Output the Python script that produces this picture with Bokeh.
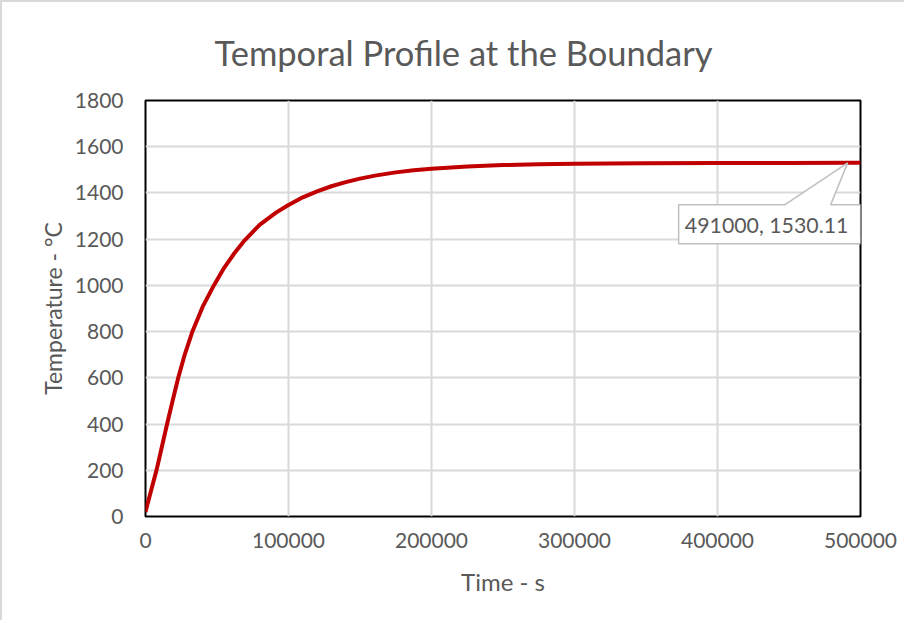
from bokeh.plotting import figure
from bokeh.models import Range1d, FixedTicker, Label, NumeralTickFormatter
from bokeh.embed import file_html
from bokeh.resources import INLINE

# ---- data ----
time_s = [0, 4000, 7900, 11500, 15100, 19000, 22800, 27500, 32600, 40000,
          47800, 55000, 62000, 69500, 80000, 91500, 100000, 110000, 120000,
          130000, 140000, 150000, 161500, 175000, 187500, 200000, 225000,
          250000, 275000, 300000, 350000, 400000, 450000, 491000, 500000]
temp_c = [20, 115, 205, 303, 400, 502, 598, 702, 797, 908,
          1000, 1076, 1138, 1196, 1263, 1316, 1348, 1381, 1407,
          1429, 1447, 1462, 1476, 1489, 1498, 1505, 1514.6,
          1520.6, 1524.3, 1526.5, 1528.7, 1529.6, 1529.95, 1530.11, 1530.13]
x_ticks = [0, 100000, 200000, 300000, 400000, 500000]
y_ticks = [0, 200, 400, 600, 800, 1000, 1200, 1400, 1600, 1800]
callout_t = 491000
callout_T = 1530.11
callout_text = "491000, 1530.11"
title_text = "Temporal Profile at the Boundary"

FONT = "Lato"
TXT = "#595959"

W, H = 904, 620
BL, BR, BT, BB = 143, 46, 98, 106
X0, X1, Y0, Y1 = 0, 500000, 0, 1800

p = figure(width=W, height=H, output_backend="svg", toolbar_location=None,
           x_range=Range1d(X0, X1), y_range=Range1d(Y0, Y1),
           min_border_left=BL, min_border_right=BR, min_border_top=BT,
           min_border_bottom=BB, background_fill_color="white",
           border_fill_color="white", title=title_text)
p.styles = {"border-left": "2px solid #d9d9d9", "border-top": "2px solid #d9d9d9"}

p.title.text_font = FONT
p.title.text_font_size = "34.5px"
p.title.text_font_style = "normal"
p.title.text_color = TXT
p.title.align = "left"
p.title.offset = 69
p.title.standoff = 52
p.title.vertical_align = "top"

p.outline_line_color = "black"
p.outline_line_width = 2
p.outline_line_alpha = 1

for ax in (p.xaxis[0], p.yaxis[0]):
    ax.axis_line_color = None
    ax.major_tick_line_color = None
    ax.minor_tick_line_color = None
    ax.major_tick_in = 0
    ax.major_tick_out = 0
    ax.major_label_text_font = FONT
    ax.major_label_text_font_size = "21px"
    ax.major_label_text_color = TXT
    ax.axis_label_text_font = FONT
    ax.axis_label_text_font_style = "normal"
    ax.axis_label_text_color = TXT

p.xaxis[0].axis_label_text_font_size = "24px"
p.yaxis[0].axis_label_text_font_size = "23px"
p.xaxis[0].ticker = FixedTicker(ticks=x_ticks)
p.yaxis[0].ticker = FixedTicker(ticks=y_ticks)
p.xaxis[0].formatter = NumeralTickFormatter(format="0")
p.yaxis[0].formatter = NumeralTickFormatter(format="0")
p.xaxis[0].axis_label = "Time - s"
p.yaxis[0].axis_label = "Temperature - \u00b0C"
p.xaxis[0].major_label_standoff = 16
p.yaxis[0].major_label_standoff = 22
p.xaxis[0].axis_label_standoff = 16
p.yaxis[0].axis_label_standoff = 5

p.xgrid[0].ticker = FixedTicker(ticks=x_ticks)
p.ygrid[0].ticker = FixedTicker(ticks=y_ticks)
for g in (p.xgrid[0], p.ygrid[0]):
    g.grid_line_color = "#d9d9d9"
    g.grid_line_width = 2

p.line(time_s, temp_c, line_color="#c00000", line_width=4, line_join="round")

# callout box, defined in pixel offsets from the labelled point
frame_w = W - BL - BR
frame_h = H - BT - BB
tx = (X1 - X0) / frame_w
ty = (Y1 - Y0) / frame_h
box_px = [(-169, -42), (-63, -42), (0, 0), (-17, -42), (13, -42),
          (13, -81), (-169, -81)]
bx = [callout_t + dx * tx for dx, dy in box_px]
by = [callout_T + dy * ty for dx, dy in box_px]
p.patch(bx, by, fill_color="white", line_color="#bfbfbf", line_width=1.5)

p.add_layout(Label(x=callout_t, y=callout_T, x_offset=-81, y_offset=-62,
                   text=callout_text, text_align="center",
                   text_baseline="middle", text_font=FONT,
                   text_font_size="21.3px", text_color=TXT))

open("out.html", "w").write(file_html(p, INLINE))
